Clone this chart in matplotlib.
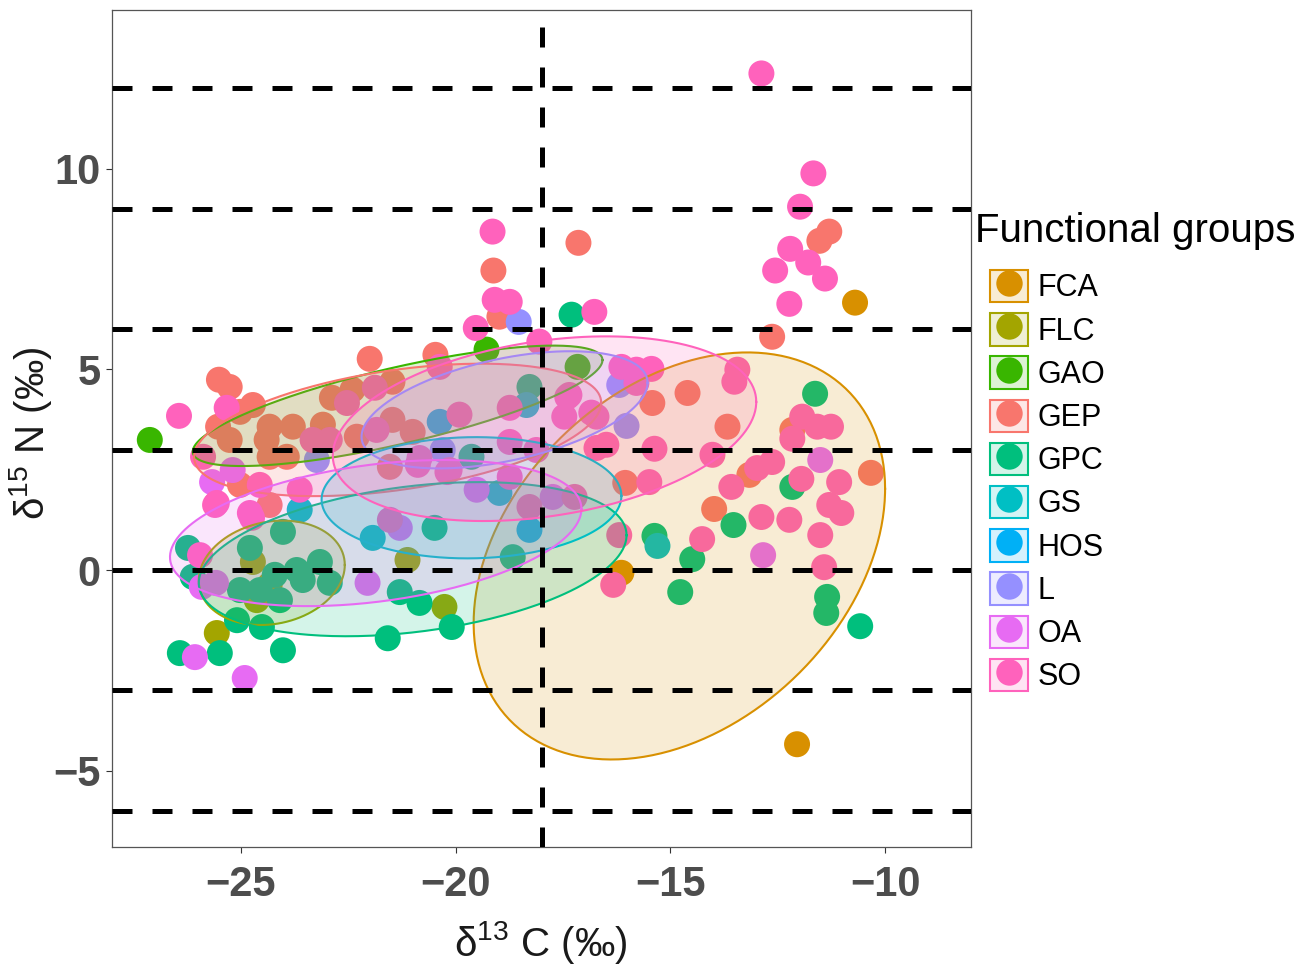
import numpy as np
import matplotlib.pyplot as plt
from matplotlib.lines import Line2D
from matplotlib.patches import Rectangle
from matplotlib.legend_handler import HandlerTuple
from matplotlib.colors import to_rgba

plt.rcParams['font.family'] = ['Liberation Sans', 'DejaVu Sans']
plt.rcParams['mathtext.fontset'] = 'custom'
plt.rcParams['mathtext.rm'] = 'Liberation Sans'
plt.rcParams['mathtext.it'] = 'Liberation Sans:italic'

groups = ['FCA', 'FLC', 'GAO', 'GEP', 'GPC', 'GS', 'HOS', 'L', 'OA', 'SO']
colors = ['#D89000', '#A3A500', '#39B600', '#F8766D', '#00BF7D',
          '#00BFC4', '#00B0F6', '#9590FF', '#E76BF3', '#FF62BC']

# d13C / d15N values per functional group
fca_c = [-10.70, -16.14, -12.05]
fca_n = [6.66, -0.07, -4.34]

flc_c = [-21.12, -20.26, -25.56, -24.72, -24.33, -24.63]
flc_n = [0.25, -0.92, -1.57, 0.20, -0.37, -0.75]

gao_c = [-27.12, -19.28, -17.16]
gao_n = [3.24, 5.49, 5.06]

gep_c = [-25.51, -25.26, -24.72, -25.02, -25.53, -25.26, -24.33, -23.79, -24.40,
         -24.33, -23.93, -23.09, -22.88, -22.00, -20.47, -21.47, -22.40, -21.00,
         -21.47, -22.30, -25.02, -24.33, -21.53, -19.12, -18.77, -18.98, -17.14,
         -11.30, -11.53, -12.63, -15.42, -14.60, -13.67, -16.05, -13.16, -13.98,
         -12.16, -10.33]
gep_n = [4.74, 4.56, 4.11, 3.94, 3.57, 3.24, 3.57, 3.57, 3.24,
         2.82, 2.82, 3.62, 4.29, 5.26, 5.36, 4.69, 4.49, 3.44,
         3.74, 3.32, 2.12, 1.62, 2.57, 7.46, 6.63, 6.31, 8.15,
         8.43, 8.20, 5.81, 4.16, 4.41, 3.57, 2.17, 2.37, 1.52,
         3.49, 2.42]

gpc_c = [-17.30, -11.63, -12.16, -13.53, -15.37, -14.49, -14.77, -11.35, -11.37,
         -10.58, -18.28, -19.63, -20.49, -18.67, -21.30, -20.84, -20.09, -21.58,
         -24.02, -26.42, -25.49, -25.09, -24.51, -26.23, -26.12, -24.79, -24.02,
         -25.02, -24.09, -23.70, -23.16, -22.93, -23.56, -24.56, -24.21]
gpc_n = [6.36, 4.39, 2.07, 1.12, 0.85, 0.27, -0.55, -0.67, -1.07,
         -1.40, 4.56, 2.82, 1.05, 0.32, -0.55, -0.82, -1.42, -1.70,
         -2.00, -2.07, -2.07, -1.25, -1.42, 0.55, -0.17, 0.55, 0.95,
         -0.50, -0.75, 0.00, 0.20, -0.32, -0.25, -0.50, -0.12]

gs_c = [-15.30, -18.35, -18.98, -21.93, -23.63]
gs_n = [0.60, 4.11, 1.92, 0.80, 1.50]

hos_c = [-20.37, -18.28]
hos_n = [3.69, 1.00]

l_c = [-18.53, -16.19, -16.02, -23.23, -20.30]
l_n = [6.18, 4.61, 3.59, 2.74, 2.99]

oa_c = [-25.67, -25.19, -25.91, -25.58, -26.07, -24.91, -22.05, -21.30, -19.51,
        -17.74, -12.84, -11.51]
oa_n = [2.19, 2.49, -0.42, -0.32, -2.17, -2.69, -0.32, 1.05, 2.00,
        1.82, 0.37, 2.74]

so_c = [-12.88, -11.67, -11.98, -12.21, -12.56, -11.79, -11.40, -12.23, -19.14,
        -19.09, -19.53, -18.74, -18.05, -16.77, -15.44, -16.14, -15.79, -13.44,
        -13.51, -14.02, -16.49, -16.72, -15.37, -15.49, -16.19, -17.47, -17.40,
        -16.84, -11.93, -11.58, -11.26, -12.16, -11.07, -11.95, -12.63, -12.98,
        -13.58, -12.88, -12.23, -11.30, -11.02, -11.51, -14.26, -11.42, -16.33,
        -26.44, -25.33, -21.88, -22.53, -22.93, -25.88, -25.56, -24.79, -23.63,
        -24.56, -20.37, -19.91, -21.84, -23.33, -20.84, -18.74, -18.74, -20.19,
        -18.28, -21.53, -25.95, -24.74, -25.60, -17.35, -16.72, -18.12, -20.88,
        -20.14, -18.74, -17.23, -15.79]
so_n = [12.37, 9.88, 9.05, 8.00, 7.46, 7.66, 7.26, 6.63, 8.43,
        6.73, 6.03, 6.68, 5.69, 6.43, 5.01, 5.06, 4.66, 4.99,
        4.69, 2.87, 3.12, 3.04, 3.02, 2.19, 0.87, 3.82, 4.31,
        3.92, 3.82, 3.57, 3.57, 3.27, 2.19, 2.27, 2.69, 2.54,
        2.07, 1.32, 1.25, 1.62, 1.42, 0.87, 0.77, 0.07, -0.37,
        3.84, 4.04, 4.54, 4.16, 3.24, 2.82, 1.67, 1.42, 2.00,
        2.12, 5.06, 3.87, 3.49, 3.24, 2.79, 4.04, 3.19, 2.44,
        1.57, 1.25, 0.37, 1.30, 1.62, 4.36, 3.82, 2.99, 2.62,
        2.49, 2.32, 1.82, 4.99]

c13 = [fca_c, flc_c, gao_c, gep_c, gpc_c, gs_c, hos_c, l_c, oa_c, so_c]
n15 = [fca_n, flc_n, gao_n, gep_n, gpc_n, gs_n, hos_n, l_n, oa_n, so_n]

# 95% ellipses: centre, sd along x, sd along y, correlation
ell_cx = [-14.79, -24.28, -21.35, -21.35, -21.00, -19.63, None, -18.86, -21.86, -17.93]
ell_cy = [0.35, -0.07, 4.09, 3.49, 0.27, 1.80, None, 3.99, 0.92, 3.52]
ell_sx = [4.79, 1.70, 4.77, 4.74, 4.98, 3.49, None, 3.33, 4.79, 4.93]
ell_sy = [5.07, 1.30, 1.50, 1.65, 1.92, 1.51, None, 1.46, 1.82, 2.30]
ell_rho = [0.33, 0.15, 0.76, 0.41, 0.31, 0.03, None, 0.46, 0.33, 0.29]

hlines = [12, 9, 6, 3, 0, -3, -6]
vline = -18

fig = plt.figure(figsize=(13.08, 9.69), dpi=100)
ax = fig.add_axes([112 / 1308, 1 - 847 / 969, (971 - 112) / 1308, (847 - 10) / 969])

for xs, ys, col in zip(c13, n15, colors):
    ax.scatter(xs, ys, s=350, color=col, edgecolors='none', zorder=2)

t = np.linspace(0, 2 * np.pi, 300)
for i, col in enumerate(colors):
    if ell_cx[i] is None:
        continue
    sx, sy, r = ell_sx[i], ell_sy[i], ell_rho[i]
    cov = np.array([[sx ** 2, r * sx * sy], [r * sx * sy, sy ** 2]])
    pts = np.linalg.cholesky(cov) @ np.vstack([np.cos(t), np.sin(t)])
    ex = ell_cx[i] + pts[0]
    ey = ell_cy[i] + pts[1]
    ax.fill(ex, ey, facecolor=to_rgba(col, 0.17), edgecolor='none', zorder=3)
    ax.plot(ex, ey, color=col, lw=1.5, zorder=3)

for h in hlines:
    ax.axhline(h, color='black', lw=3.6, ls=(0, (4, 4)), zorder=4)
ax.axvline(vline, color='black', lw=3.6, ls=(0, (4, 4)), zorder=4)

ax.set_xlim(-28, -8)
ax.set_ylim(-6.9, 13.95)
ax.set_xticks([-25, -20, -15, -10])
ax.set_yticks([-5, 0, 5, 10])
ax.tick_params(axis='both', length=4, width=0.8, color='#333333',
               labelsize=30, labelcolor='#4D4D4D')
ax.tick_params(axis='x', pad=9)
ax.tick_params(axis='y', pad=4)
for lab in ax.get_xticklabels() + ax.get_yticklabels():
    lab.set_fontweight('bold')
for sp in ax.spines.values():
    sp.set_color('#555555')
    sp.set_linewidth(0.9)

fig.text(541 / 1308, 1 - 943 / 969, r'δ$^{13}$ C (‰)', fontsize=29,
         color='#1A1A1A', ha='center', va='center')
fig.text(31 / 1308, 1 - 433 / 969, r'δ$^{15}$ N (‰)', fontsize=29,
         color='#1A1A1A', ha='center', va='center', rotation=90)

# legend
handles = []
for col in colors:
    box = Rectangle((0, 0), 1, 1, facecolor=to_rgba(col, 0.17), edgecolor=col, lw=1.5)
    dot = Line2D([], [], ls='none', marker='o', markersize=19,
                 markerfacecolor=col, markeredgecolor='none')
    handles.append((box, dot))
fig.text(975 / 1308, 1 - 231 / 969, 'Functional groups', fontsize=29,
         va='center', ha='left', color='black')
fig.legend(handles, groups, handler_map={tuple: HandlerTuple(ndivide=1)},
           loc='upper left', bbox_to_anchor=(990 / 1308, 1 - 270 / 969),
           frameon=False, fontsize=22, handlelength=1.25, handleheight=1.25,
           handletextpad=0.3, labelspacing=0.32, borderpad=0, borderaxespad=0)

fig.savefig('out.png', dpi=100)
